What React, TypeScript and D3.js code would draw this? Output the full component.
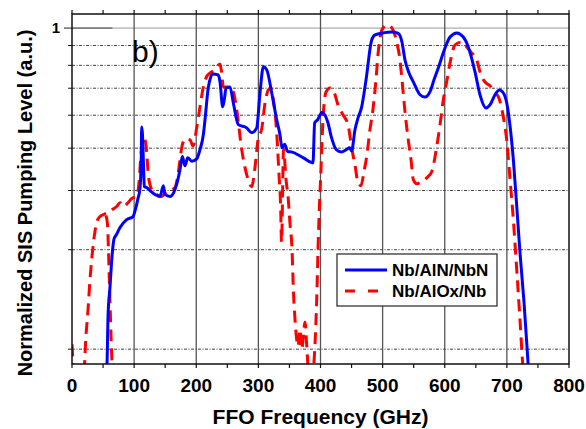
import React from "react";
import * as d3 from "d3";

const X_TICKS = [0, 100, 200, 300, 400, 500, 600, 700, 800];
const X_MINOR = [50, 150, 250, 350, 450, 550, 650, 750];
const GRID_LEVELS = [0.9, 0.8, 0.7, 0.6, 0.5, 0.4, 0.3, 0.2];
const Y_LABELS = [1];
const SERIES_NAMES = ["Nb/AlN/NbN", "Nb/AlOx/Nb"];

const blueFreq = [54.7,56.3,58.0,61.2,64.4,67.6,71.6,77.3,88.0,98.2,101.4,105.8,109.5,111.4,112.2,113.5,115.1,116.4,120.2,125.6,133.6,141.7,147.0,149.7,157.8,165.8,173.9,177.6,181.9,186.2,192.7,200.7,206.0,211.4,214.1,219.4,226.5,235.5,238.2,242.6,245.5,247.9,254.3,259.7,267.7,281.2,289.3,297.3,302.6,308.0,313.5,321.5,329.5,334.8,338.0,342.3,347.2,353.2,371.8,387.9,390.6,395.4,402.3,412.0,417.4,425.5,433.5,441.6,446.9,450.1,455.5,460.4,466.3,473.3,482.4,487.8,501.1,514.6,525.2,531.2,536.0,542.5,549.4,560.2,568.2,576.3,582.7,589.6,600.4,608.5,619.3,629.9,637.9,648.7,656.7,666.4,672.8,680.9,687.8,694.3,699.7,705.1,710.4,715.8,721.1,727.6,734.5,735.7];
const blueVal = [0.185,0.190,0.226,0.255,0.291,0.315,0.322,0.333,0.346,0.351,0.361,0.382,0.405,0.470,0.562,0.538,0.457,0.408,0.406,0.400,0.392,0.388,0.410,0.392,0.388,0.402,0.446,0.478,0.455,0.475,0.466,0.472,0.496,0.538,0.585,0.703,0.760,0.756,0.727,0.629,0.661,0.701,0.705,0.643,0.569,0.559,0.544,0.559,0.681,0.793,0.779,0.681,0.585,0.538,0.501,0.511,0.491,0.490,0.475,0.462,0.575,0.585,0.609,0.575,0.532,0.496,0.490,0.496,0.501,0.493,0.553,0.591,0.629,0.735,0.930,0.959,0.971,0.976,0.968,0.918,0.826,0.765,0.726,0.674,0.665,0.686,0.735,0.788,0.887,0.947,0.971,0.947,0.892,0.770,0.674,0.625,0.636,0.674,0.693,0.681,0.644,0.565,0.470,0.371,0.296,0.239,0.188,0.181];

const redFreq = [0,4.0,19.3,22.1,25.8,29.0,32.2,37.0,40.2,45.1,51.5,58.0,64.4,71.9,77.3,82.6,90.1,96.1,104.2,107.8,111.1,115.1,118.3,120.7,122.8,128.3,136.3,144.4,152.4,161.0,165.8,171.1,176.6,181.9,190.0,194.8,200.7,206.0,211.4,215.7,222.2,230.2,238.2,241.0,243.5,251.6,259.7,265.1,273.2,281.2,289.3,294.6,299.4,305.4,310.7,316.0,320.4,324.1,329.5,333.2,335.7,337.3,340.5,344.5,348.2,351.0,354.2,356.3,359.0,361.7,363.8,367.1,369.8,375.1,377.9,380.7,386.3,391.2,393.9,396.5,398.4,400.8,404.0,408.9,415.3,421.7,428.2,436.2,444.3,450.7,455.5,460.4,465.2,470.0,474.8,479.6,484.4,489.3,492.5,495.7,500.5,508.6,515.0,522.6,527.9,531.2,536.0,541.3,545.7,549.4,554.8,563.4,573.1,579.0,587.1,592.4,597.7,603.7,608.5,616.6,627.3,635.4,642.3,651.5,656.7,662.1,668.0,672.8,679.3,686.2,694.3,699.7,705.1,710.4,715.8,721.1,725.5,726.8];
const redVal = [0.2035,0.184,0.186,0.207,0.232,0.263,0.291,0.327,0.343,0.351,0.355,0.357,0.363,0.369,0.376,0.369,0.376,0.384,0.388,0.416,0.483,0.529,0.518,0.478,0.434,0.402,0.392,0.388,0.398,0.402,0.406,0.439,0.501,0.526,0.523,0.506,0.559,0.629,0.705,0.743,0.765,0.779,0.807,0.765,0.705,0.705,0.685,0.619,0.496,0.434,0.408,0.452,0.523,0.556,0.643,0.693,0.701,0.655,0.544,0.434,0.373,0.311,0.496,0.423,0.382,0.338,0.300,0.252,0.223,0.207,0.202,0.215,0.200,0.221,0.202,0.186,0.182,0.204,0.242,0.315,0.373,0.446,0.585,0.685,0.701,0.685,0.636,0.601,0.569,0.496,0.457,0.416,0.410,0.441,0.483,0.553,0.619,0.735,0.851,0.941,1.000,1.018,1.000,0.919,0.826,0.735,0.612,0.523,0.470,0.423,0.414,0.419,0.430,0.441,0.504,0.569,0.655,0.735,0.812,0.903,0.919,0.892,0.865,0.826,0.770,0.735,0.718,0.710,0.685,0.667,0.594,0.523,0.423,0.346,0.275,0.223,0.190,0.184];

const redBranchFreq = [54.7,57.1,59.6,62.0,64.4,65.2];
const redBranchVal = [0.353,0.338,0.275,0.223,0.190,0.182];

const W = 586, H = 429;
const L = 72, R = 569, T = 14, B = 364;
const OFF = 0.094;
const FONT = "'Liberation Sans', Arial, Helvetica, sans-serif";

export default function App() {
  const x = d3.scaleLinear().domain([0, 800]).range([L, R]);
  const yl = d3.scaleLog().domain([0.19 - OFF, 1.089 - OFF]).range([B, T]);
  const y = (v: number) => yl(v - OFF);

  const line = d3
    .line<[number, number]>()
    .x((d) => x(d[0]))
    .y((d) => y(d[1]))
    .curve(d3.curveMonotoneX);

  const blue = d3.zip(blueFreq, blueVal) as [number, number][];
  const red = d3.zip(redFreq, redVal) as [number, number][];
  const redB = d3.zip(redBranchFreq, redBranchVal) as [number, number][];

  const legX = 337, legY = 254;

  return (
    <svg width={W} height={H} style={{ position: "absolute", left: 0, top: 0, background: "#fff" }} fontFamily={FONT}>
      <defs>
        <clipPath id="plot">
          <rect x={L} y={T} width={R - L} height={B - T} />
        </clipPath>
      </defs>
      <rect x={0} y={0} width={W} height={H} fill="#fff" />
      {/* horizontal grid */}
      {GRID_LEVELS.map((g) => (
        <g key={g}>
          <line x1={L} x2={R} y1={y(g)} y2={y(g)} stroke="#111" strokeWidth={0.8} strokeDasharray="3,1.5,1,1.5" />
          <line x1={L - 4} x2={L} y1={y(g)} y2={y(g)} stroke="#111" strokeWidth={1} />
        </g>
      ))}
      {Y_LABELS.map((v) => (
        <g key={v}>
          <line x1={L} x2={R} y1={y(v)} y2={y(v)} stroke="#c4c4c4" strokeWidth={1.8} />
          <line x1={L - 8} x2={x(65)} y1={y(v)} y2={y(v)} stroke="#808080" strokeWidth={1.8} />
          <text x={60} y={y(v)} dy="0.36em" textAnchor="end" fontSize={15} fontWeight="bold">{v}</text>
        </g>
      ))}
      {/* vertical grid */}
      {X_TICKS.slice(1, -1).map((t) => (
        <line key={t} x1={x(t)} x2={x(t)} y1={T} y2={B} stroke="#555" strokeWidth={1.3} />
      ))}
      {/* ticks */}
      {X_TICKS.concat(X_MINOR).map((t) => (
        <g key={"t" + t}>
          <line x1={x(t)} x2={x(t)} y1={B} y2={B + 4} stroke="#111" strokeWidth={1.2} />
          <line x1={x(t)} x2={x(t)} y1={T - 4} y2={T} stroke="#111" strokeWidth={1.2} />
        </g>
      ))}
      {X_TICKS.map((t) => (
        <text key={"l" + t} x={x(t)} y={392} textAnchor="middle" fontSize={19} fontWeight="bold">{t}</text>
      ))}
      {/* curves */}
      <g clipPath="url(#plot)">
        <path d={line(red) || ""} fill="none" stroke="#ff0000" strokeWidth={3} strokeDasharray="12,7" />
        <path d={line(redB) || ""} fill="none" stroke="#ff0000" strokeWidth={3} strokeDasharray="12,7" />
        <path d={line(blue) || ""} fill="none" stroke="#0000ff" strokeWidth={3} />
      </g>
      {/* frame */}
      <rect x={L} y={T} width={R - L} height={B - T} fill="none" stroke="#111" strokeWidth={1.5} />
      {/* panel label */}
      <text x={132} y={62} fontSize={30}>b)</text>
      {/* legend */}
      <rect x={legX} y={legY} width={160} height={52} fill="#fff" stroke="#333" strokeWidth={1.3} />
      <line x1={legX + 8} x2={legX + 50} y1={legY + 16} y2={legY + 16} stroke="#0000ff" strokeWidth={3} />
      <line x1={legX + 8} x2={legX + 50} y1={legY + 37} y2={legY + 37} stroke="#ff0000" strokeWidth={3} strokeDasharray="10,13" />
      <text x={legX + 55} y={legY + 16} dy="0.36em" fontSize={17} fontWeight="bold">{SERIES_NAMES[0]}</text>
      <text x={legX + 55} y={legY + 37} dy="0.36em" fontSize={17} fontWeight="bold">{SERIES_NAMES[1]}</text>
      {/* axis titles */}
      <text x={(L + R) / 2} y={424} textAnchor="middle" fontSize={21} fontWeight="bold">FFO Frequency (GHz)</text>
      <text transform="translate(32,203) rotate(-90)" textAnchor="middle" fontSize={20} fontWeight="bold">Normalized SIS Pumping Level (a.u.)</text>
    </svg>
  );
}
